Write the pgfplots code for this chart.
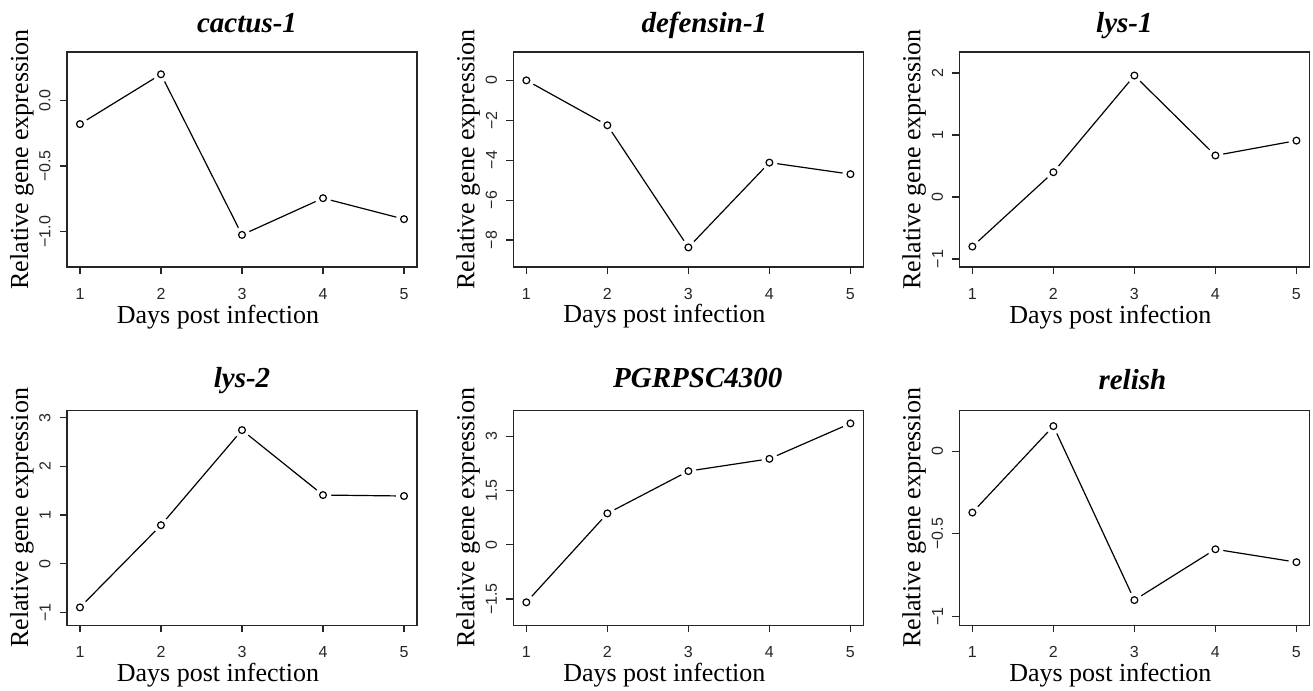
\documentclass[border=0pt]{standalone}
\usepackage{fontspec}
\setmainfont{Liberation Serif}
\newfontfamily\tickfont{Liberation Sans}
\usepackage{pgfplots}
\usepackage{pgfplotstable}
\pgfplotsset{compat=1.18}

% one table per gene: day, relative expression
\pgfplotstableread{
day val
1 -0.18
2 0.20
3 -1.025
4 -0.745
5 -0.905
}\cactus
\pgfplotstableread{
day val
1 0.0
2 -2.25
3 -8.37
4 -4.12
5 -4.70
}\defensin
\pgfplotstableread{
day val
1 -0.80
2 0.40
3 1.96
4 0.67
5 0.91
}\lysone
\pgfplotstableread{
day val
1 -0.90
2 0.79
3 2.745
4 1.41
5 1.39
}\lystwo
\pgfplotstableread{
day val
1 -1.59
2 0.87
3 2.04
4 2.38
5 3.36
}\pgrp
\pgfplotstableread{
day val
1 -0.371
2 0.151
3 -0.90
4 -0.593
5 -0.671
}\relish

\newcommand{\tl}[1]{\mbox{\tickfont #1}}

\pgfplotsset{
  rpanel/.style={
    scale only axis, width=175pt, height=107.5pt,
    anchor=north west,
    xmin=0.84, xmax=5.16,
    xtick={1,2,3,4,5},
    xticklabels={\tl{1},\tl{2},\tl{3},\tl{4},\tl{5}},
    xtick pos=bottom, ytick pos=left,
    tick align=outside, major tick length=3.5pt,
    axis line style={line width=0.6pt, black!85},
    tick style={line width=0.6pt, black!85},
    /pgf/number format/assume math mode=true,
    tick label style={font=\tickfont\fontsize{8}{9}\selectfont, text=black!85},
    xticklabel style={anchor=north, inner sep=0pt},
    xticklabel shift=7pt,
    yticklabel style={rotate=90, anchor=south, inner sep=0pt},
    yticklabel shift=4.5pt,
    xlabel={Days post infection},
    ylabel={Relative gene expression},
    label style={font=\fontsize{13}{15}\selectfont},
    xlabel style={at={(axis description cs:0.4314,-0.2605)}, anchor=base},
    ylabel style={at={(axis description cs:-0.1114,0.5)}, anchor=base},
    title style={font=\fontsize{14.5}{16}\selectfont\bfseries\itshape,
      at={(axis description cs:0.5,1)}, anchor=base, yshift=4pt},
  },
  rline/.style={black, line width=0.6pt, no markers},
  rhalo/.style={only marks, mark=*, mark size=3.8pt, mark options={draw=white, fill=white}},
  rpoint/.style={only marks, mark=o, mark size=1.7pt, mark options={line width=0.6pt, black}},
}

\newcommand{\rtype}[1]{%
  \addplot[rline] table[x=day, y=val] {#1};
  \addplot[rhalo] table[x=day, y=val] {#1};
  \addplot[rpoint] table[x=day, y=val] {#1};
}

\begin{document}
\begin{tikzpicture}
\path[use as bounding box] (0,0) rectangle (656.5pt,-345.5pt);

\begin{axis}[rpanel, at={(33.5pt,-26pt)},
    title={cactus-1}, title style={xshift=2.5pt},
    ymin=-1.27, ymax=0.37,
    ytick={-1,-0.5,0}, yticklabels={\tl{−1.0},\tl{−0.5},\tl{0.0}}]
\rtype{\cactus}
\end{axis}

\begin{axis}[rpanel, at={(256.7pt,-26pt)},
    title={defensin-1}, title style={xshift=8pt},
    ymin=-9.35, ymax=1.42,
    ytick={-8,-6,-4,-2,0}, yticklabels={\tl{−8},\tl{−6},\tl{−4},\tl{−2},\tl{0}}]
\rtype{\defensin}
\end{axis}

\begin{axis}[rpanel, at={(479.7pt,-26pt)},
    title={lys-1}, title style={xshift=-5pt},
    ymin=-1.13, ymax=2.34,
    ytick={-1,0,1,2}, yticklabels={\tl{−1},\tl{0},\tl{1},\tl{2}}]
\rtype{\lysone}
\end{axis}

\begin{axis}[rpanel, at={(33.5pt,-205.2pt)},
    title={lys-2}, title style={yshift=1.5pt},
    ymin=-1.27, ymax=3.15,
    ytick={-1,0,1,2,3}, yticklabels={\tl{−1},\tl{0},\tl{1},\tl{2},\tl{3}}]
\rtype{\lystwo}
\end{axis}

\begin{axis}[rpanel, at={(256.7pt,-205.2pt)},
    title={PGRPSC4300}, title style={xshift=4.7pt, yshift=1.5pt},
    ymin=-2.23, ymax=3.72,
    ytick={-1.5,0,1.5,3}, yticklabels={\tl{−1.5},\tl{0},\tl{1.5},\tl{3}}]
\rtype{\pgrp}
\end{axis}

\begin{axis}[rpanel, at={(479.7pt,-205.2pt)},
    title={relish}, title style={xshift=-1pt, yshift=0.5pt},
    ymin=-1.053, ymax=0.246,
    ytick={-1,-0.5,0}, yticklabels={\tl{−1},\tl{−0.5},\tl{0}}]
\rtype{\relish}
\end{axis}
\end{tikzpicture}
\end{document}
